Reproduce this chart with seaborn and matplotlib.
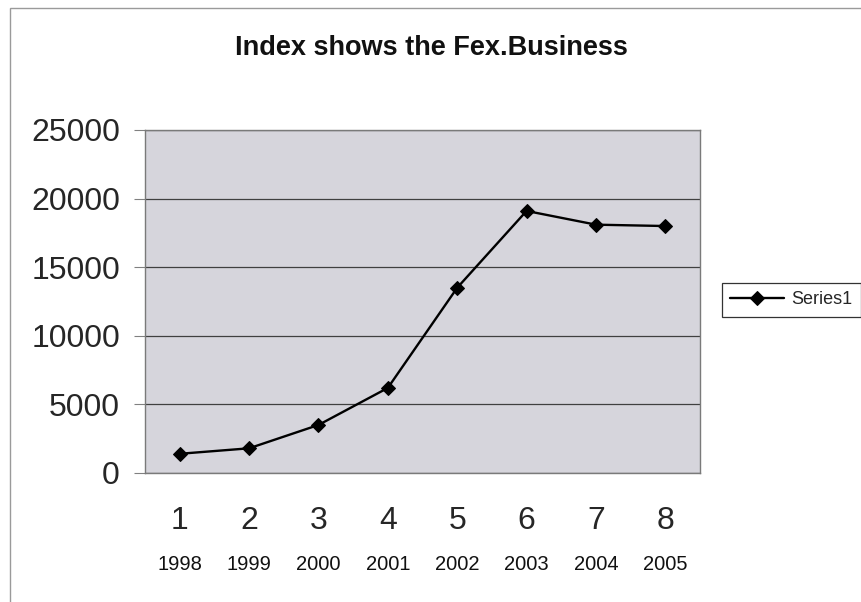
import matplotlib
matplotlib.use("Agg")
import matplotlib.pyplot as plt
import matplotlib.patches as mpatches
import matplotlib.transforms as mtransforms
import numpy as np
import pandas as pd
import seaborn as sns

# Index values per period
periods = ["1", "2", "3", "4", "5", "6", "7", "8"]
years = ["1998", "1999", "2000", "2001", "2002", "2003", "2004", "2005"]
index_values = [1400, 1800, 3500, 6200, 13500, 19100, 18100, 18000]
y_ticks = [0, 5000, 10000, 15000, 20000, 25000]

df = pd.DataFrame({"period": periods, "year": years, "value": index_values})

sns.set_theme(style="white")
plt.rcParams["font.family"] = ["Liberation Sans", "DejaVu Sans"]

fig = plt.figure(figsize=(8.62, 6.02), dpi=100)
fig.patch.set_facecolor("white")

# Outer chart frame
frame = mpatches.Rectangle((10 / 862, -0.05), 1.2, 1 - 8 / 602 + 0.05,
                           transform=fig.transFigure, fill=False,
                           edgecolor="#9a9a9a", linewidth=1.0, clip_on=False)
fig.add_artist(frame)

ax = fig.add_axes([145 / 862, 1 - 473 / 602, 555 / 862, 343 / 602])
ax.set_facecolor("#d6d5dc")

sns.lineplot(data=df, x="period", y="value", ax=ax, color="black",
             linewidth=1.7, marker="D", markersize=7.5, markeredgecolor="black",
             markerfacecolor="black", label="Series1", legend=False, zorder=3)

ax.set_xlim(-0.5, len(periods) - 0.5)
ax.set_ylim(y_ticks[0], y_ticks[-1])
ax.set_yticks(y_ticks)
ax.set_yticklabels([str(v) for v in y_ticks], fontsize=23)
ax.set_xticks(range(len(periods)))
ax.set_xticklabels(periods, fontsize=23)
ax.set_xticks(np.arange(-0.5, len(periods)), minor=True)
ax.tick_params(axis="x", which="major", length=0, pad=24)
ax.tick_params(axis="x", which="minor", length=8, width=0.8, color="#808080",
               direction="out")
ax.tick_params(axis="y", which="major", length=8, width=0.8, color="#808080",
               direction="out", pad=10, left=True)
ax.set_xlabel("")
ax.set_ylabel("")

ax.grid(axis="y", color="#404040", linewidth=0.9)
ax.grid(axis="x", visible=False)
ax.set_axisbelow(True)
for side, sp in ax.spines.items():
    sp.set_visible(True)
    sp.set_color("#7a7a7a")
    sp.set_linewidth(1.0)

# Year row beneath the period numbers
trans = mtransforms.blended_transform_factory(ax.transData, ax.transAxes)
for i, yr in enumerate(years):
    ax.text(i, -0.268, yr, transform=trans, ha="center", va="center",
            fontsize=14.5, color="#111111")

fig.text(0.5, 1 - 48 / 602, "Index shows the Fex.Business", ha="center",
         va="center", fontsize=19.5, fontweight="bold", color="#111111")

handles, labels = ax.get_legend_handles_labels()
leg = fig.legend(handles, labels, loc="center left",
                 bbox_to_anchor=(722 / 862, 1 - 300 / 602), frameon=True,
                 fancybox=False, framealpha=1, edgecolor="#333333",
                 fontsize=13, handlelength=3.0, borderpad=0.45,
                 handletextpad=0.4, borderaxespad=0)
leg.get_frame().set_linewidth(0.9)

fig.savefig("out.png", dpi=100, facecolor="white")
